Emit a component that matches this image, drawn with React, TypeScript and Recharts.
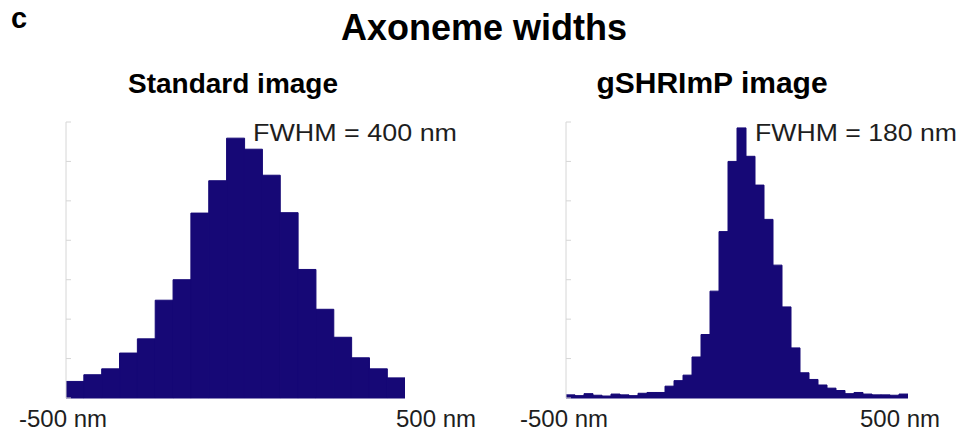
import { BarChart, Bar, XAxis, YAxis } from 'recharts'

// histogram heights in y-tick units
const standardCounts = [0.42, 0.59, 0.74, 1.14, 1.5, 2.48, 3.0, 4.69, 5.51, 6.59, 6.31, 5.65, 4.7, 3.26, 2.25, 1.54, 1.02, 0.74, 0.51]
const shrimpCounts = [
  0.08, 0.06, 0.11, 0.07, 0.05, 0.1, 0.08, 0.06, 0.12, 0.14,
  0.14, 0.3, 0.44, 0.58, 1.04, 1.61, 2.71, 4.22, 6.0, 6.85,
  6.13, 5.4, 4.53, 3.37, 2.31, 1.27, 0.64, 0.47, 0.33, 0.25,
  0.19, 0.11, 0.14, 0.1, 0.08, 0.08, 0.07, 0.1,
]
const xRange = [-500, 500]
const xTicks = [-500, 500]
const yTicks = [0, 1, 2, 3, 4, 5, 6, 7]

const BAR_COLOR = '#160876'
const FONT = '"Liberation Sans", Arial, Helvetica, sans-serif'

function toBins(counts: number[]) {
  const w = (xRange[1] - xRange[0]) / counts.length
  return counts.map((c, i) => ({ x: xRange[0] + (i + 0.5) * w, count: c }))
}

function YTick(props: any) {
  const { x, y } = props
  return <line x1={x} x2={x + 5} y1={y} y2={y} stroke="#d6d6d6" strokeWidth={1} />
}

function makeXTick(shifts: number[]) {
  return (props: any) => {
    const { x, y, payload, index } = props
    return (
      <text x={x + shifts[index]} y={y + 29} textAnchor="middle" fontFamily={FONT} fontSize={24} fill="#1e1e1e">
        {payload.value} nm
      </text>
    )
  }
}

interface HistProps {
  counts: number[]
  width: number
  yWidth: number
  right: number
  shifts: number[]
}

function Histogram({ counts, width, yWidth, right, shifts }: HistProps) {
  return (
    <BarChart
      width={width}
      height={440}
      data={toBins(counts)}
      margin={{ top: 122, right, bottom: 0, left: 0 }}
      barCategoryGap={0}
      barGap={0}
    >
      <XAxis
        dataKey="x"
        type="number"
        domain={xRange}
        ticks={xTicks}
        interval={0}
        allowDataOverflow
        height={42}
        axisLine={false}
        tickLine={false}
        tickSize={0}
        tickMargin={0}
        tick={makeXTick(shifts)}
      />
      <YAxis
        domain={[0, 7]}
        ticks={yTicks}
        width={yWidth}
        axisLine={{ stroke: '#d6d6d6' }}
        tickLine={false}
        tickSize={0}
        tickMargin={0}
        tick={<YTick />}
      />
      <Bar dataKey="count" fill={BAR_COLOR} stroke={BAR_COLOR} strokeWidth={1} isAnimationActive={false} />
    </BarChart>
  )
}

export default function App() {
  return (
    <div style={{ position: 'absolute', left: 0, top: 0, width: 961, height: 440, background: '#fff', overflow: 'hidden' }}>
      <div style={{ position: 'absolute', left: 0, top: 0 }}>
        <Histogram counts={standardCounts} width={480} yWidth={66} right={75} shifts={[-3, 31]} />
      </div>
      <div style={{ position: 'absolute', left: 480, top: 0 }}>
        <Histogram counts={shrimpCounts} width={481} yWidth={86} right={53} shifts={[-2, -8]} />
      </div>
      <svg width={961} height={440} style={{ position: 'absolute', left: 0, top: 0, pointerEvents: 'none' }}>
        <text x={11} y={28} fontFamily={FONT} fontWeight="bold" fontSize={29} fill="#000">c</text>
        <text x={484} y={40} textAnchor="middle" fontFamily={FONT} fontWeight="bold" fontSize={36} fill="#000">Axoneme widths</text>
        <text x={233} y={93} textAnchor="middle" fontFamily={FONT} fontWeight="bold" fontSize={28} fill="#000">Standard image</text>
        <text x={712} y={93} textAnchor="middle" fontFamily={FONT} fontWeight="bold" fontSize={30} fill="#000">gSHRImP image</text>
        <text x={253} y={141} fontFamily={FONT} fontSize={24} textLength={204} lengthAdjust="spacingAndGlyphs" fill="#1e1e1e">FWHM = 400 nm</text>
        <text x={755} y={141} fontFamily={FONT} fontSize={24} textLength={202} lengthAdjust="spacingAndGlyphs" fill="#1e1e1e">FWHM = 180 nm</text>
      </svg>
    </div>
  )
}
